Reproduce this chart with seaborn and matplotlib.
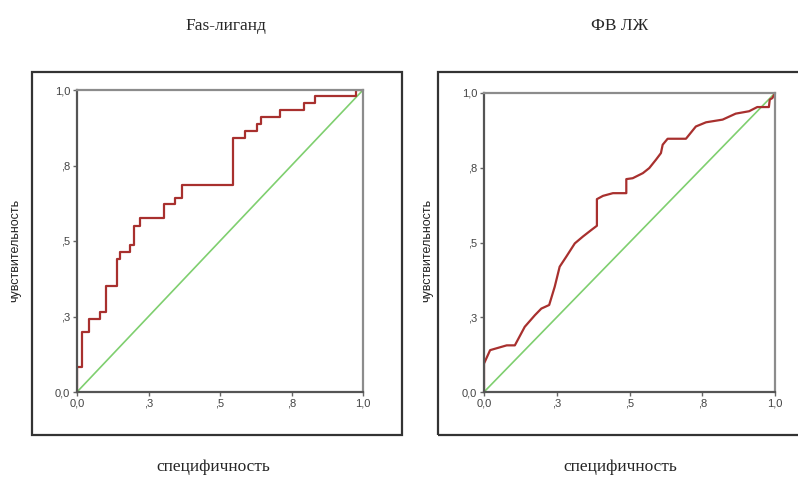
import matplotlib
matplotlib.use("Agg")
import matplotlib.pyplot as plt
import seaborn as sns
import pandas as pd
from matplotlib.patches import Rectangle

# Fas-лиганд: ROC corners (1 - specificity, sensitivity)
fas_x = [0.0, 0.0, 0.017, 0.041, 0.081, 0.102, 0.140, 0.151, 0.184, 0.198, 0.219,
         0.305, 0.343, 0.366, 0.544, 0.587, 0.628, 0.645, 0.709, 0.793, 0.831, 0.977, 1.0]
fas_y = [0.0, 0.083, 0.199, 0.243, 0.265, 0.350, 0.442, 0.462, 0.486, 0.550, 0.577,
         0.621, 0.643, 0.687, 0.842, 0.865, 0.887, 0.909, 0.934, 0.958, 0.980, 1.0, 1.0]

# ФВ ЛЖ
fv_x = [0.0, 0.0, 0.021, 0.078, 0.106, 0.140, 0.175, 0.197, 0.224, 0.243, 0.260,
        0.283, 0.312, 0.340, 0.369, 0.388, 0.388, 0.409, 0.443, 0.489, 0.489, 0.511,
        0.546, 0.568, 0.591, 0.608, 0.614, 0.631, 0.694, 0.728, 0.763, 0.820, 0.865,
        0.911, 0.939, 0.979, 0.982, 0.991, 1.0]
fv_y = [0.0, 0.095, 0.140, 0.156, 0.156, 0.218, 0.257, 0.279, 0.291, 0.352, 0.419,
        0.453, 0.497, 0.520, 0.542, 0.556, 0.645, 0.656, 0.665, 0.665, 0.712, 0.715,
        0.732, 0.749, 0.777, 0.799, 0.827, 0.847, 0.847, 0.888, 0.902, 0.911, 0.931,
        0.939, 0.953, 0.953, 0.978, 0.983, 1.0]

ref = [0.0, 1.0]
ticks = [0.0, 0.25, 0.5, 0.75, 1.0]
tick_labels = ["0,0", ",3", ",5", ",8", "1,0"]

titles = ["Fas-лиганд", "ФВ ЛЖ"]
xlab = "специфичность"
ylab = "чувствительность"

sns.set_style("white")
plt.rcParams['font.family'] = ['Liberation Sans', 'DejaVu Sans']

W, H = 798, 480
fig = plt.figure(figsize=(W / 100, H / 100), dpi=100)


def px(l, t, r, b):
    return [l / W, 1 - b / H, (r - l) / W, (b - t) / H]


red = "#a8302e"
green = "#7fcf6f"

panels = [
    dict(ax=px(77, 90, 363, 392), frame=(32, 72, 402, 435), x=fas_x, y=fas_y,
         steps=True, tx=226, lx=213, yl=15),
    dict(ax=px(484, 93, 775, 392), frame=(438, 72, 800, 435), x=fv_x, y=fv_y,
         steps=False, tx=620, lx=620, yl=427),
]

for p, title in zip(panels, titles):
    l, t, r, b = p["frame"]
    fig.patches.append(Rectangle((l / W, 1 - b / H), (r - l) / W, (b - t) / H,
                                 transform=fig.transFigure, fill=False,
                                 edgecolor="#333333", linewidth=1.6))
    ax = fig.add_axes(p["ax"])
    df = pd.DataFrame({"x": p["x"], "y": p["y"]})
    sns.lineplot(data=pd.DataFrame({"x": ref, "y": ref}), x="x", y="y", ax=ax,
                 color=green, linewidth=1.2, estimator=None, sort=False)
    sns.lineplot(data=df, x="x", y="y", ax=ax, color=red, linewidth=1.6,
                 estimator=None, sort=False,
                 drawstyle="steps-post" if p["steps"] else "default")
    ax.set_xlim(0, 1)
    ax.set_ylim(0, 1)
    ax.set_xticks(ticks)
    ax.set_yticks(ticks)
    ax.set_xticklabels(tick_labels)
    ax.set_yticklabels(tick_labels)
    ax.tick_params(direction="out", length=3, width=1, color="#666666",
                   labelsize=8, labelcolor="#444444", pad=2,
                   bottom=True, left=True)
    ax.set_xlabel("")
    ax.set_ylabel("")
    for s in ax.spines.values():
        s.set_color("#8c8c8c")
        s.set_linewidth(1.6)
    ax.spines["left"].set_color("#555555")
    ax.spines["bottom"].set_color("#555555")

    fig.text(p["tx"] / W, 1 - 26 / H, title, ha="center", va="center",
             fontsize=12.5, family=["Liberation Serif", "DejaVu Serif"])
    fig.text(p["lx"] / W, 1 - 467 / H, xlab, ha="center", va="center",
             fontsize=12.5, family=["Liberation Serif", "DejaVu Serif"])
    fig.text(p["yl"] / W, 1 - 250 / H, ylab, ha="center", va="center",
             rotation=90, fontsize=9, color="#222222")

fig.savefig("out.png", dpi=100)
